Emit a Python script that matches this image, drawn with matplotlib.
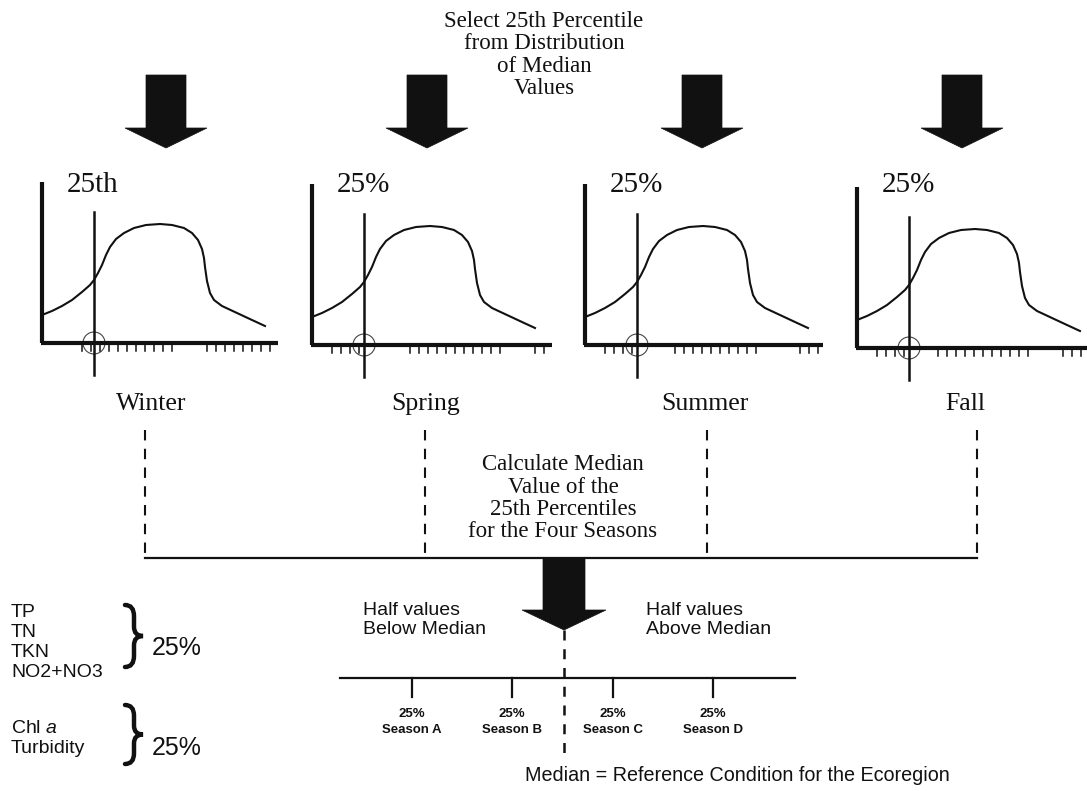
import numpy as np
import matplotlib.pyplot as plt
from matplotlib.path import Path
from matplotlib.patches import PathPatch, Polygon, Circle

plt.rcParams['mathtext.fontset'] = 'custom'
plt.rcParams['mathtext.rm'] = 'Liberation Sans'
plt.rcParams['mathtext.it'] = 'Liberation Sans:italic'

SERIF = 'Liberation Serif'
SANS = 'Liberation Sans'
INK = '#111111'

# text
top_lines = ['Select 25th Percentile', 'from Distribution', 'of Median', 'Values']
calc_lines = ['Calculate Median', 'Value of the', '25th Percentiles', 'for the Four Seasons']
seasons = ['Winter', 'Spring', 'Summer', 'Fall']
panel_labels = ['25th', '25%', '25%', '25%']
season_ticks = ['Season A', 'Season B', 'Season C', 'Season D']
group1 = ['TP', 'TN', 'TKN', 'NO2+NO3']
group2 = ['Chl $a$', 'Turbidity']

# distribution curve shape (offset right, height above x axis)
curve_dx = [0, 10, 20, 30, 40, 48, 52, 56, 60, 64, 68, 74, 82, 92, 104, 118,
            130, 142, 150, 156, 160, 162, 163, 165, 168, 172, 180, 195, 210, 223]
curve_dy = [28, 32, 37, 43, 51, 58, 63, 70, 78, 88, 96, 104, 110, 115, 118, 119,
            118, 115, 110, 103, 94, 85, 76, 62, 50, 43, 37, 30, 23, 17]

# panel layout
panel_x0 = [42, 312, 585, 857]
panel_y0 = [343, 345, 345, 348]
axis_len = [236, 240, 238, 232]
pct_dx = 52
tick_groups = [[(40, 130), (165, 231)],
               [(20, 53), (98, 188), (223, 233)],
               [(20, 55), (90, 178), (215, 235)],
               [(20, 48), (81, 171), (206, 230)]]

arrow_x = [166, 427, 702, 962]
season_x = [151, 426, 705, 965]
dash_x = [145, 425, 707, 977]
tick_x = [412, 512, 613, 713]

fig = plt.figure(figsize=(10.87, 7.91), dpi=100)
ax = fig.add_axes([0, 0, 1, 1])
ax.set_xlim(0, 1087)
ax.set_ylim(791, 0)
ax.axis('off')


def down_arrow(cx, top, head_base, tip, shaft_w, head_w):
    pts = [(cx - shaft_w / 2, top), (cx + shaft_w / 2, top), (cx + shaft_w / 2, head_base),
           (cx + head_w / 2, head_base), (cx, tip), (cx - head_w / 2, head_base),
           (cx - shaft_w / 2, head_base)]
    ax.add_patch(Polygon(pts, closed=True, fc=INK, ec=INK, lw=0.5))


def brace(x, top, bottom, w):
    mid = (top + bottom) / 2
    h = bottom - top
    verts = [(x, top), (x + w / 2, top), (x + w / 2, top + h * 0.18),
             (x + w / 2, mid - h * 0.15), (x + w / 2, mid), (x + w, mid),
             (x + w / 2, mid), (x + w / 2, mid + h * 0.15),
             (x + w / 2, bottom - h * 0.18), (x + w / 2, bottom), (x, bottom)]
    codes = [Path.MOVETO, Path.CURVE3, Path.CURVE3, Path.LINETO, Path.CURVE3, Path.CURVE3,
             Path.CURVE3, Path.CURVE3, Path.LINETO, Path.CURVE3, Path.CURVE3]
    ax.add_patch(PathPatch(Path(verts, codes), fc='none', ec=INK, lw=3.2, capstyle='round'))


# title text
for line, yb in zip(top_lines, [27, 49, 72, 94]):
    ax.text(544, yb, line, family=SERIF, fontsize=16.5, ha='center', va='baseline', color=INK)

# arrows
for cx in arrow_x:
    down_arrow(cx, 75, 128, 148, 40, 82)

# panels
for i in range(4):
    x0, y0 = panel_x0[i], panel_y0[i]
    ax.plot([x0, x0], [y0, y0 - 161], color=INK, lw=3, solid_capstyle='butt')
    ax.plot([x0 - 1, x0 + axis_len[i]], [y0, y0], color=INK, lw=3, solid_capstyle='butt')
    for a, b in tick_groups[i]:
        for tx in np.arange(a, b + 1, 9):
            ax.plot([x0 + tx, x0 + tx], [y0, y0 + 8], color=INK, lw=1.1)
    xs = [x0 + d for d in curve_dx]
    ys = [y0 - d for d in curve_dy]
    ax.plot(xs, ys, color=INK, lw=1.5)
    ax.plot([x0 + pct_dx, x0 + pct_dx], [y0 - 131, y0 + 32], color=INK, lw=1.8)
    ax.add_patch(Circle((x0 + pct_dx, y0), 11, fc='none', ec='#444444', lw=0.8))
    ax.text(x0 + 25, 192, panel_labels[i], family=SERIF, fontsize=21, ha='left',
            va='baseline', color=INK)

# season names and dashed connectors
for name, sx in zip(seasons, season_x):
    ax.text(sx, 410, name, family=SERIF, fontsize=18.5, ha='center', va='baseline', color=INK)
for dx in dash_x:
    ax.plot([dx, dx], [430, 558], color=INK, lw=1.5, ls=(0, (5, 4)))
ax.plot([dash_x[0], dash_x[-1]], [558, 558], color=INK, lw=1.6)

for line, yb in zip(calc_lines, [470, 493, 515, 537]):
    ax.text(563, yb, line, family=SERIF, fontsize=16.5, ha='center', va='baseline', color=INK)

# median arrow and line
down_arrow(564, 558, 610, 630, 42, 84)
ax.plot([564, 564], [630, 760], color=INK, lw=1.8, ls=(0, (4, 3.5)))

ax.text(363, 615, 'Half values', family=SANS, fontsize=14, va='baseline', color=INK)
ax.text(363, 634, 'Below Median', family=SANS, fontsize=14, va='baseline', color=INK)
ax.text(646, 615, 'Half values', family=SANS, fontsize=14, va='baseline', color=INK)
ax.text(646, 634, 'Above Median', family=SANS, fontsize=14, va='baseline', color=INK)

ax.plot([340, 795], [678, 678], color=INK, lw=1.6)
for tx, lab in zip(tick_x, season_ticks):
    ax.plot([tx, tx], [678, 697], color=INK, lw=1.6)
    ax.text(tx, 717, '25%', family=SANS, fontsize=9.5, fontweight='bold', ha='center',
            va='baseline', color=INK)
    ax.text(tx, 733, lab, family=SANS, fontsize=9.5, fontweight='bold', ha='center',
            va='baseline', color=INK)

ax.text(525, 781, 'Median = Reference Condition for the Ecoregion', family=SANS,
        fontsize=14.2, va='baseline', color=INK)

# parameter groups
for lab, yb in zip(group1, [617, 637, 657, 677]):
    ax.text(11, yb, lab, family=SANS, fontsize=14, va='baseline', color=INK)
for lab, yb in zip(group2, [733, 753]):
    ax.text(11, yb, lab, family=SANS, fontsize=14, va='baseline', color=INK)
brace(125, 605, 667, 18)
brace(125, 705, 764, 18)
ax.text(152, 655, '25%', family=SANS, fontsize=18, va='baseline', color=INK)
ax.text(152, 755, '25%', family=SANS, fontsize=18, va='baseline', color=INK)

fig.savefig('out.png', dpi=100)
